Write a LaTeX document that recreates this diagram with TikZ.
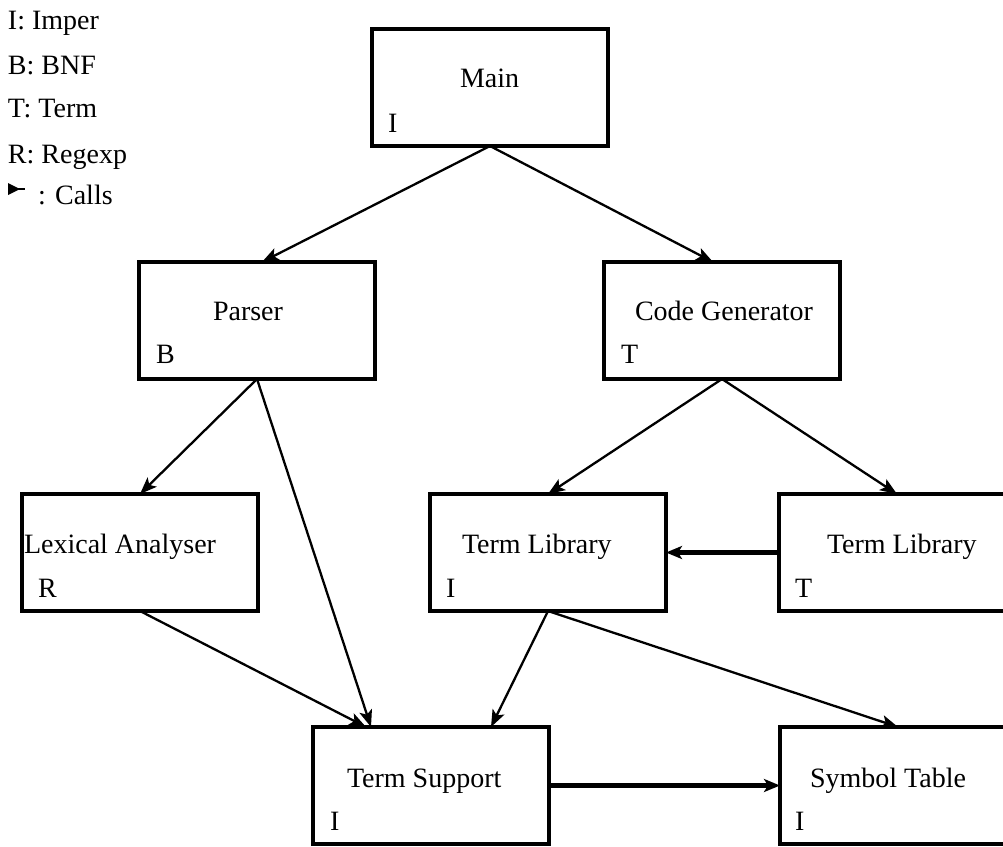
\documentclass[tikz,border=0pt]{standalone}
\usepackage{fontspec}
\setmainfont{Liberation Serif}
\usetikzlibrary{arrows.meta,calc}
\begin{document}
\begin{tikzpicture}[x=1pt,y=-1pt,
  every node/.style={font=\fontsize{28}{32}\selectfont,inner sep=0pt,outer sep=0pt},
  module/.style={draw,line width=3.4pt,rectangle,minimum width=236pt,minimum height=117pt,anchor=north west},
  txt/.style={anchor=base west},
  call/.style={line width=2.3pt,-{Stealth[length=17pt,width=13pt,inset=4pt]}},
  bigcall/.style={line width=4.2pt,-{Stealth[length=16pt,width=13pt,inset=4pt]}}]
\useasboundingbox (0,0) rectangle (1003,846);
\clip (0,0) rectangle (1003,846);

% legend
\node[txt] (lgI) at (8,29) {I: Imper};
\node[txt] (lgB) at (8,74) {B: BNF};
\node[txt] (lgT) at (8,117) {T: Term};
\node[txt] (lgR) at (8,163) {R: Regexp};
\node[txt] (lgC) at (38,204) {: Calls};
\fill (8,183) -- (8,195) -- (20,189) -- cycle;
\draw[line width=2pt] (8,189) -- (25,189);

% module boxes
\node[module] (main)   at (372,29)  {};
\node[module] (parser) at (139,262) {};
\node[module] (codegen) at (604,262) {};
\node[module] (lexer)  at (22,494)  {};
\node[module] (tlibi)  at (430,494) {};
\node[module] (tlibt)  at (779,494) {};
\node[module] (tsup)   at (313,727) {};
\node[module] (symtab) at (780,727) {};

% module names
\node[txt] (mainT)   at (460,87)  {Main};
\node[txt] (parserT) at (213,320) {Parser};
\node[txt] (codegenT) at (635,320) {Code Generator};
\node[txt] (lexerT)  at (24,553)  {Lexical Analyser};
\node[txt] (tlibiT)  at (462,553) {Term Library};
\node[txt] (tlibtT)  at (827,553) {Term Library};
\node[txt] (tsupT)   at (347,787) {Term Support};
\node[txt] (symtabT) at (810,787) {Symbol Table};

% implementation languages
\node[txt] (mainL)   at (388,132) {I};
\node[txt] (parserL) at (156,363) {B};
\node[txt] (codegenL) at (621,363) {T};
\node[txt] (lexerL)  at (38,597)  {R};
\node[txt] (tlibiL)  at (446,597) {I};
\node[txt] (tlibtL)  at (795,597) {T};
\node[txt] (tsupL)   at (330,830) {I};
\node[txt] (symtabL) at (795,830) {I};

% calls
\draw[call] (main.south) -- ($(parser.north)+(5,0)$);
\draw[call] (main.south) -- ($(codegen.north)+(-9,0)$);
\draw[call] (parser.south) -- (lexer.north);
\draw[call] (parser.south) -- ($(tsup.north)+(-60,0)$);
\draw[call] (codegen.south) -- (tlibi.north);
\draw[call] (codegen.south) -- (tlibt.north);
\draw[call] (lexer.south) -- ($(tsup.north)+(-65,0)$);
\draw[call] (tlibi.south) -- ($(tsup.north)+(60,0)$);
\draw[call] (tlibi.south) -- (symtab.north);
\draw[bigcall] (tlibt.west) -- (tlibi.east);
\draw[bigcall] (tsup.east) -- (symtab.west |- tsup.east);
\end{tikzpicture}
\end{document}
